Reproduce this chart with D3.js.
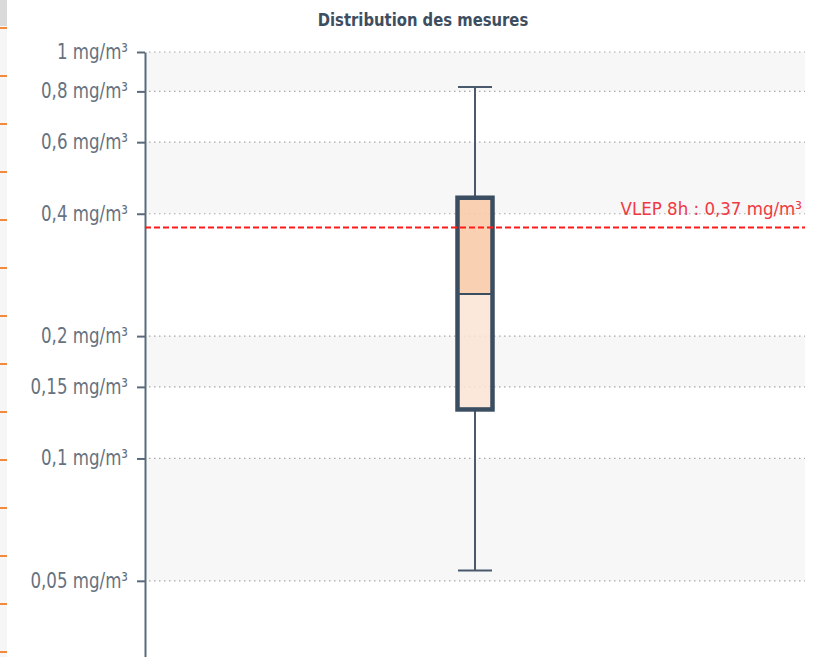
<!DOCTYPE html>
<html>
<head>
<meta charset="utf-8">
<script src="https://cdn.jsdelivr.net/npm/d3@7"></script>
<style>
  body { margin: 0; background: #fff; }
  text { font-family: "DejaVu Sans Condensed", "DejaVu Sans", sans-serif; font-stretch: condensed; }
</style>
</head>
<body>
<div id="chart"></div>
<script>
// box plot values (mg/m3)
var categories = ["Mesures"];
var lowWhisker = [0.053];
var q1 = [0.132];
var median = [0.254];
var q3 = [0.438];
var highWhisker = [0.82];

var tickValues = [0.05, 0.1, 0.15, 0.2, 0.4, 0.6, 0.8, 1];
var tickLabels = ["0,05 mg/m³", "0,1 mg/m³", "0,15 mg/m³", "0,2 mg/m³", "0,4 mg/m³", "0,6 mg/m³", "0,8 mg/m³", "1 mg/m³"];
var vlepValue = [0.37];
var vlepLabel = ["VLEP 8h : 0,37 mg/m³"];

// squeeze text horizontally, the original font is narrower than what we have
function squeeze(sel, ratio) {
    sel.each(function () {
        var len = this.getComputedTextLength();
        d3.select(this)
            .attr("textLength", len * ratio)
            .attr("lengthAdjust", "spacingAndGlyphs");
    });
}

function drawChart() {
    var width = 817, height = 657;
    var plotLeft = 145, plotRight = 805, plotTop = 52;

    var svg = d3.select("#chart").append("svg")
        .attr("width", width)
        .attr("height", height);

    // strip on the left edge (piece of the page next to the chart)
    svg.append("rect").attr("x", 0).attr("y", 0).attr("width", 7).attr("height", 26).attr("fill", "#dadada");
    svg.append("rect").attr("x", 0).attr("y", 26).attr("width", 7).attr("height", height - 26).attr("fill", "#f6f6f6");
    svg.selectAll(".edge-tick")
        .data(d3.range(28, height, 48))
        .enter().append("rect")
        .attr("class", "edge-tick")
        .attr("x", 0).attr("y", function (d) { return d - 1; })
        .attr("width", 7).attr("height", 2)
        .attr("fill", "#f28c3c");

    var x = d3.scaleBand()
        .domain(categories)
        .range([plotLeft, plotRight]);

    var y = d3.scaleLog()
        .domain([0.03, 1])
        .range([671, plotTop]);

    // alternating bands between gridlines
    var bandEdges = tickValues.slice().reverse().concat([0.03]);
    var bands = [];
    for (var i = 0; i < bandEdges.length - 1; i++) {
        bands.push({ hi: bandEdges[i], lo: bandEdges[i + 1], gray: i % 2 === 0 });
    }
    svg.selectAll(".band")
        .data(bands)
        .enter().append("rect")
        .attr("class", "band")
        .attr("x", plotLeft)
        .attr("width", plotRight - plotLeft)
        .attr("y", function (d) { return y(d.hi); })
        .attr("height", function (d) { return y(d.lo) - y(d.hi); })
        .attr("fill", function (d) { return d.gray ? "#f7f7f7" : "#ffffff"; });

    // dotted gridlines
    svg.selectAll(".grid")
        .data(tickValues)
        .enter().append("line")
        .attr("class", "grid")
        .attr("x1", plotLeft + 4).attr("x2", plotRight)
        .attr("y1", function (d) { return y(d); })
        .attr("y2", function (d) { return y(d); })
        .attr("stroke", "#a8a8a8")
        .attr("stroke-width", 1.2)
        .attr("stroke-dasharray", "1.5,3.5");

    // title
    svg.append("text")
        .attr("x", 423).attr("y", 26)
        .attr("text-anchor", "middle")
        .attr("font-size", "18.5px")
        .attr("font-weight", "bold")
        .attr("fill", "#3d4e61")
        .text("Distribution des mesures")
        .call(squeeze, 0.89);

    // y axis
    var axis = svg.append("g")
        .attr("transform", "translate(" + plotLeft + ",0)")
        .call(d3.axisLeft(y)
            .tickValues(tickValues)
            .tickSize(8)
            .tickSizeOuter(0)
            .tickPadding(9)
            .tickFormat(function (d) { return tickLabels[tickValues.indexOf(d)]; }));
    axis.select(".domain").attr("stroke", "#5a6a7b").attr("stroke-width", 2);
    axis.selectAll(".tick line").attr("stroke", "#5a6a7b").attr("stroke-width", 2);
    axis.selectAll(".tick text")
        .attr("fill", "#66727f")
        .attr("font-size", "21.5px")
        .attr("font-family", null)
        .attr("dy", "0.3em")
        .call(squeeze, 0.86);

    // box plot
    var boxW = 35, capW = 34;
    var boxData = categories.map(function (c, i) {
        return { cat: c, lo: lowWhisker[i], q1: q1[i], med: median[i], q3: q3[i], hi: highWhisker[i] };
    });
    var g = svg.selectAll(".box").data(boxData).enter().append("g").attr("class", "box");
    function cx(d) { return x(d.cat) + x.bandwidth() / 2; }

    g.append("line")
        .attr("x1", cx).attr("x2", cx)
        .attr("y1", function (d) { return y(d.hi); })
        .attr("y2", function (d) { return y(d.q3); })
        .attr("stroke", "#4a5a6c").attr("stroke-width", 2);
    g.append("line")
        .attr("x1", cx).attr("x2", cx)
        .attr("y1", function (d) { return y(d.q1); })
        .attr("y2", function (d) { return y(d.lo); })
        .attr("stroke", "#4a5a6c").attr("stroke-width", 2);
    g.append("line")
        .attr("x1", function (d) { return cx(d) - capW / 2; })
        .attr("x2", function (d) { return cx(d) + capW / 2; })
        .attr("y1", function (d) { return y(d.hi); })
        .attr("y2", function (d) { return y(d.hi); })
        .attr("stroke", "#4a5a6c").attr("stroke-width", 2);
    g.append("line")
        .attr("x1", function (d) { return cx(d) - capW / 2; })
        .attr("x2", function (d) { return cx(d) + capW / 2; })
        .attr("y1", function (d) { return y(d.lo); })
        .attr("y2", function (d) { return y(d.lo); })
        .attr("stroke", "#4a5a6c").attr("stroke-width", 2);

    // upper half and lower half fills
    g.append("rect")
        .attr("x", function (d) { return cx(d) - boxW / 2; })
        .attr("width", boxW)
        .attr("y", function (d) { return y(d.q3); })
        .attr("height", function (d) { return y(d.med) - y(d.q3); })
        .attr("fill", "#f8cba8").attr("fill-opacity", 0.9);
    g.append("rect")
        .attr("x", function (d) { return cx(d) - boxW / 2; })
        .attr("width", boxW)
        .attr("y", function (d) { return y(d.med); })
        .attr("height", function (d) { return y(d.q1) - y(d.med); })
        .attr("fill", "#fce4d4").attr("fill-opacity", 0.85);
    g.append("line")
        .attr("x1", function (d) { return cx(d) - boxW / 2; })
        .attr("x2", function (d) { return cx(d) + boxW / 2; })
        .attr("y1", function (d) { return y(d.med); })
        .attr("y2", function (d) { return y(d.med); })
        .attr("stroke", "#3b4d61").attr("stroke-width", 2);
    g.append("rect")
        .attr("x", function (d) { return cx(d) - boxW / 2; })
        .attr("width", boxW)
        .attr("y", function (d) { return y(d.q3); })
        .attr("height", function (d) { return y(d.q1) - y(d.q3); })
        .attr("fill", "none")
        .attr("stroke", "#3b4d61").attr("stroke-width", 4.5);

    // VLEP threshold
    svg.append("line")
        .attr("x1", plotLeft).attr("x2", plotRight)
        .attr("y1", y(vlepValue[0])).attr("y2", y(vlepValue[0]))
        .attr("stroke", "#ff1a1a")
        .attr("stroke-width", 1.8)
        .attr("stroke-dasharray", "6,3");
    svg.append("text")
        .attr("x", plotRight - 3).attr("y", y(vlepValue[0]) - 13)
        .attr("text-anchor", "end")
        .attr("font-size", "18.5px")
        .attr("fill", "#f03a42")
        .text(vlepLabel[0]);
}

drawChart();
</script>
</body>
</html>
